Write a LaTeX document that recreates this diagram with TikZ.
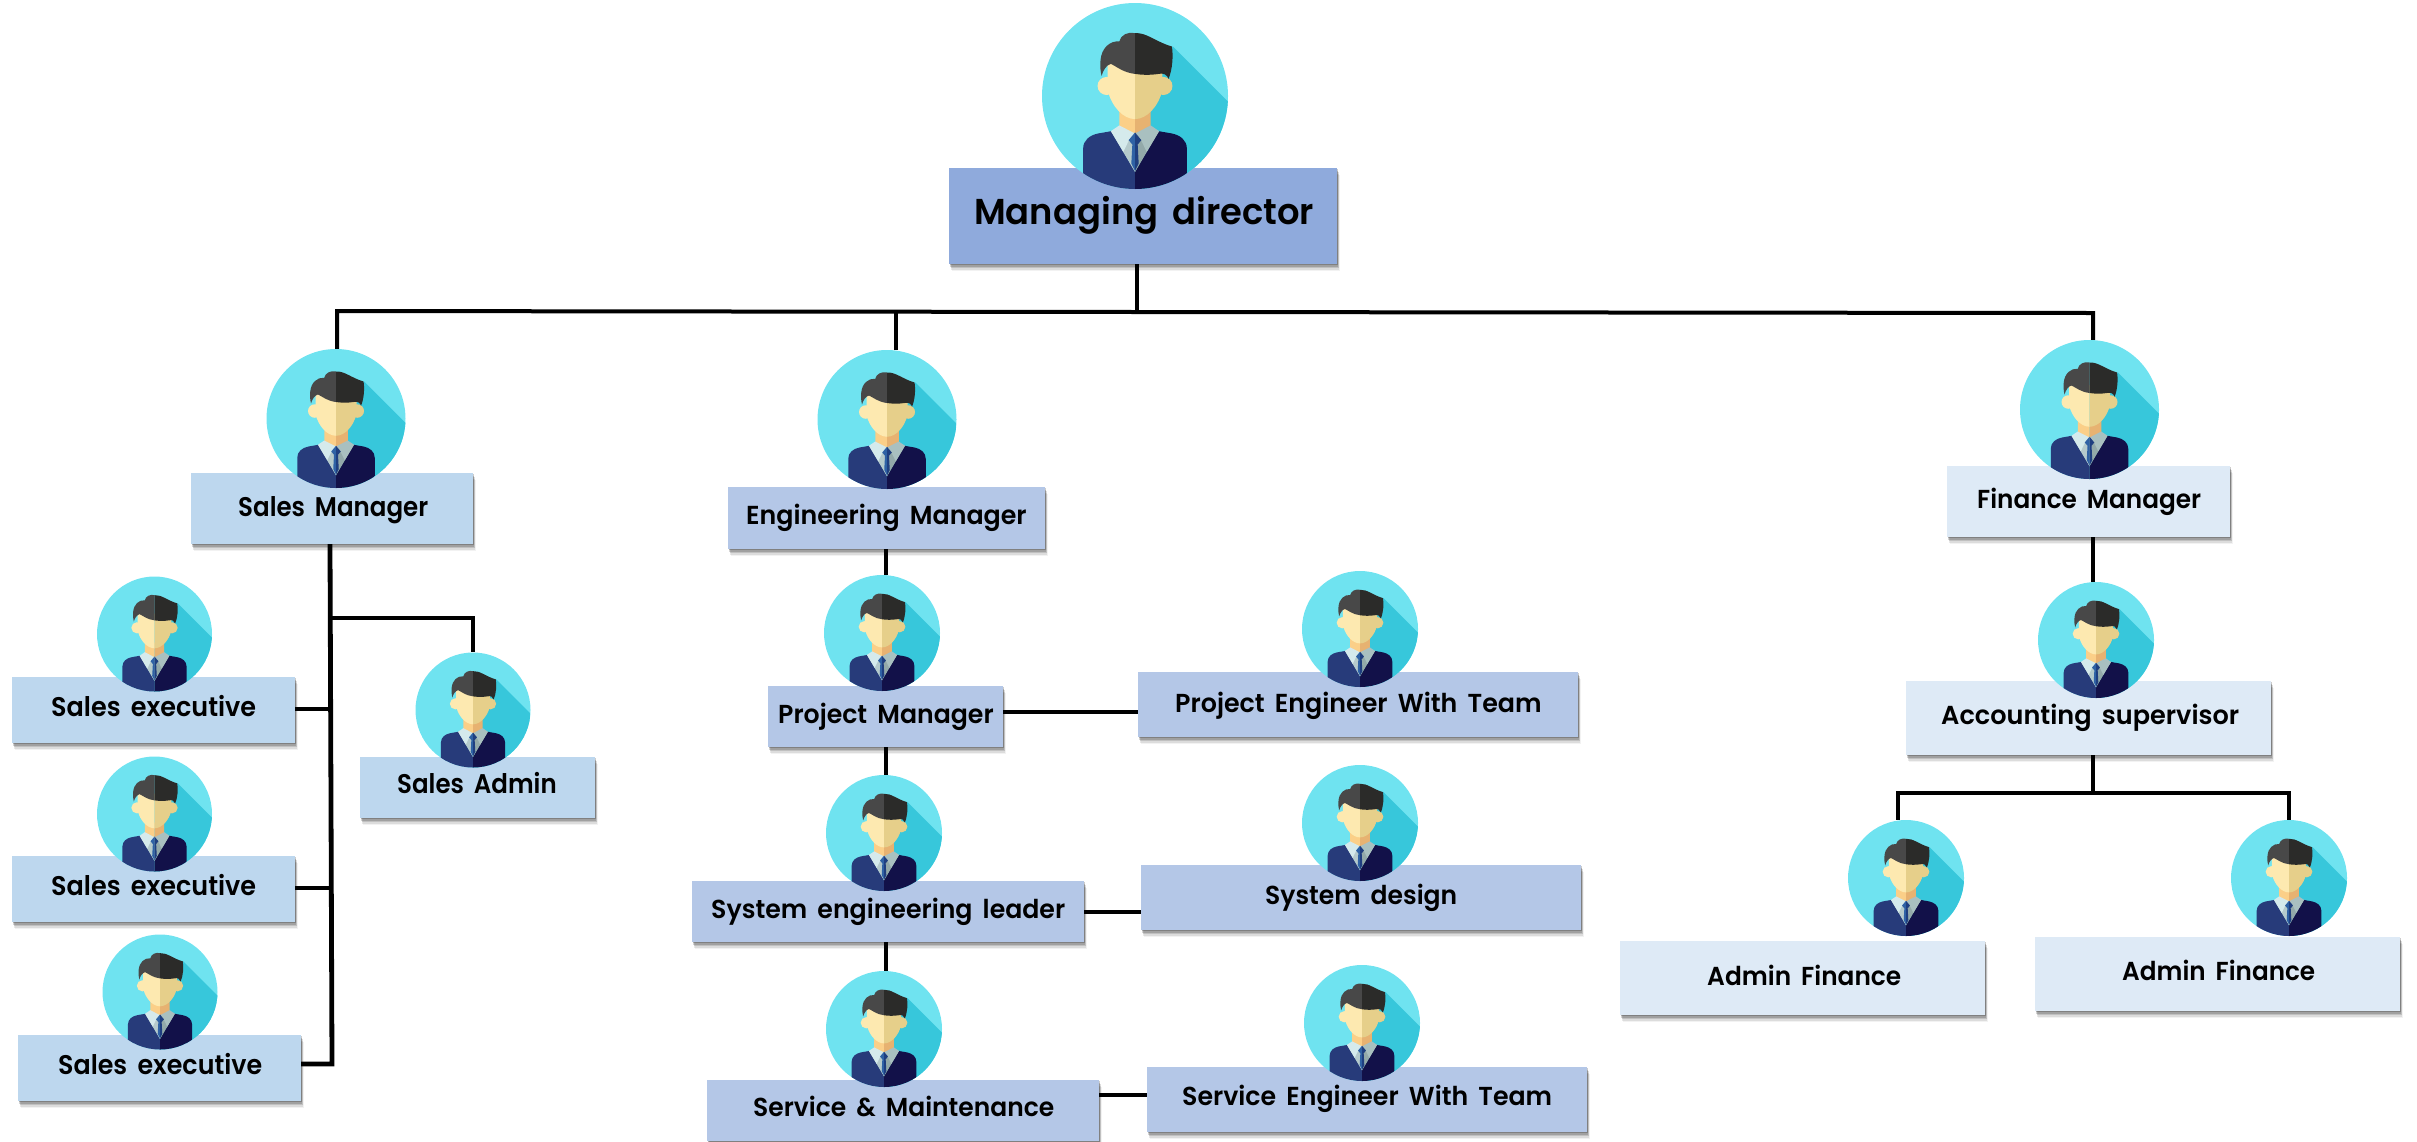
\documentclass[tikz,border=0pt]{standalone}
\usepackage{fontspec}
\usepackage{graphicx}
\setmainfont{Poppins}[BoldFont={Poppins SemiBold},WordSpace=1.7]
\usetikzlibrary{shadows}
\definecolor{cTop}{HTML}{8FAADC}
\definecolor{cSales}{HTML}{BDD7EE}
\definecolor{cEng}{HTML}{B4C7E7}
\definecolor{cFin}{HTML}{DEEAF6}
\definecolor{cDisc}{HTML}{6FE3F0}
\definecolor{cDiscD}{HTML}{37C7DB}
\definecolor{cSuitL}{HTML}{273B7A}
\definecolor{cSuitR}{HTML}{121149}
\definecolor{cNeckL}{HTML}{FBCF88}
\definecolor{cNeckR}{HTML}{E7B271}
\definecolor{cFaceL}{HTML}{FDE9B0}
\definecolor{cFaceR}{HTML}{E6CF8A}
\definecolor{cHairL}{HTML}{484848}
\definecolor{cHairR}{HTML}{2B2B29}
\definecolor{cColL}{HTML}{D5EAEC}
\definecolor{cColR}{HTML}{A9C0C0}
\definecolor{cShirtL}{HTML}{B5CACC}
\definecolor{cShirtR}{HTML}{93A9A9}
\definecolor{cTieL}{HTML}{2F62A5}
\definecolor{cTieR}{HTML}{1F3F80}
\tikzset{
  cardbox/.style={rectangle,inner sep=0pt,draw=none,
    general shadow={fill=black,opacity=.05,shadow xshift=2.5pt,shadow yshift=-7pt},
    general shadow={fill=black,opacity=.09,shadow xshift=2pt,shadow yshift=-5.5pt},
    general shadow={fill=black,opacity=.13,shadow xshift=1.5pt,shadow yshift=-4pt},
    general shadow={fill=black,opacity=.17,shadow xshift=1pt,shadow yshift=-2.5pt},
    general shadow={fill=black,opacity=.20,shadow xshift=.5pt,shadow yshift=-1.2pt}},
  boxtop/.style={cardbox,fill=cTop},
  boxsales/.style={cardbox,fill=cSales},
  boxeng/.style={cardbox,fill=cEng},
  boxfin/.style={cardbox,fill=cFin},
  disc/.style={circle,inner sep=0pt,draw=none,fill=cDisc},
  cardlabel/.style={anchor=base west,inner sep=0pt,text=black},
  wire/.style={draw=black,line width=4pt},
  wirethick/.style={draw=black,line width=4.8pt},
}
% name, x1, y1, x2, y2, style
\newcommand{\card}[6]{%
  \pgfmathsetmacro\cardw{#4-#2}%
  \pgfmathsetmacro\cardh{#5-#3}%
  \node[#6,minimum width=\cardw pt,minimum height=\cardh pt] (#1) at ({(#2+#4)/2},{(#3+#5)/2}) {};}
% name, x1, x2, baseline, size, text
\newcommand{\cardtext}[6]{%
  \pgfmathsetmacro\textw{#3-#2}%
  \node[cardlabel] (#1) at (#2,#4) {\resizebox{\textw pt}{\height}{\fontsize{#5}{#5}\selectfont\bfseries #6}};}
% name, cx, cy, r
\newcommand{\avatar}[4]{%
  \pgfmathsetmacro\avd{2*#4}%
  \pgfmathsetmacro\avs{#4/278}%
  \node[disc,minimum size=\avd pt] (#1) at (#2,#3) {};
  \begin{scope}[shift={(#2,#3)},x=\avs pt,y=-\avs pt,shift={(-285,-288)}]
    \clip (285,288) circle (278);
    \fill[cDiscD] (398,140) -- (563,305) -- (570,570) -- (285,570) -- (285,200) -- cycle;
    \fill[cNeckL] (238,330) -- (285,330) -- (285,405) -- (238,380) -- cycle;
    \fill[cNeckR] (332,330) -- (285,330) -- (285,405) -- (332,380) -- cycle;
    \fill[cSuitL] (130,575) -- (130,445) .. controls (130,420) and (150,405) .. (175,400) -- (215,393) -- (285,515) -- (285,575) -- cycle;
    \fill[cSuitR] (440,575) -- (440,445) .. controls (440,420) and (420,405) .. (395,400) -- (355,393) -- (285,515) -- (285,575) -- cycle;
    \fill[cShirtL] (213,393) -- (285,400) -- (285,515) -- cycle;
    \fill[cShirtR] (357,393) -- (285,400) -- (285,515) -- cycle;
    \fill[cColL] (238,376) -- (213,393) -- (250,455) -- (268,418) -- (285,400) -- cycle;
    \fill[cColR] (332,376) -- (357,393) -- (320,455) -- (302,418) -- (285,400) -- cycle;
    \fill[cTieL] (285,397) -- (266,420) -- (277,433) -- (274,490) -- (285,512) -- cycle;
    \fill[cTieR] (285,397) -- (304,420) -- (293,433) -- (296,490) -- (285,512) -- cycle;
    \fill[cFaceL] (200,258) circle (27);
    \fill[cFaceR] (370,258) circle (27);
    \fill[cFaceL] (203,190) -- (203,270) .. controls (215,320) and (250,357) .. (285,357) -- (285,190) -- cycle;
    \fill[cFaceR] (367,190) -- (367,270) .. controls (355,320) and (320,357) .. (285,357) -- (285,190) -- cycle;
    \fill[cHairL] (285,100) .. controls (265,95) and (242,105) .. (238,125) .. controls (210,122) and (185,145) .. (182,180) .. controls (180,200) and (182,215) .. (185,228) .. controls (190,210) and (200,195) .. (213,192) .. controls (230,200) and (250,218) .. (285,222) -- cycle;
    \fill[cHairR] (285,100) .. controls (320,98) and (345,125) .. (395,140) .. controls (400,165) and (397,210) .. (385,237) .. controls (382,225) and (370,218) .. (355,222) .. controls (330,226) and (305,225) .. (285,222) -- cycle;
  \end{scope}}
\begin{document}
\begin{tikzpicture}[x=1pt,y=-1pt]
\clip (0,0) rectangle (2417,1141);
% ---- cards
\card{md}{949}{168}{1337}{264}{boxtop}
\card{sm}{191}{473}{473}{544}{boxsales}
\card{se1}{12}{677}{295}{743}{boxsales}
\card{se2}{12}{856}{295}{922}{boxsales}
\card{se3}{18}{1035}{301}{1101}{boxsales}
\card{sa}{360}{757}{595}{818}{boxsales}
\card{em}{728}{487}{1045}{549}{boxeng}
\card{pm}{768}{686}{1003}{747}{boxeng}
\card{pe}{1138}{672}{1578}{737}{boxeng}
\card{sl}{692}{881}{1084}{942}{boxeng}
\card{sd}{1141}{865}{1581}{930}{boxeng}
\card{sv}{707}{1080}{1099}{1141}{boxeng}
\card{st}{1147}{1067}{1587}{1132}{boxeng}
\card{fm}{1947}{466}{2230}{537}{boxfin}
\card{as}{1906}{681}{2271}{755}{boxfin}
\card{af1}{1620}{941}{1985}{1015}{boxfin}
\card{af2}{2035}{937}{2400}{1011}{boxfin}
% ---- avatars
\avatar{amd}{1135}{96}{93}
\avatar{asm}{336}{418.5}{69.5}
\avatar{ase1}{154.5}{634}{57.5}
\avatar{ase2}{154.5}{814}{57.5}
\avatar{ase3}{160}{992}{57.5}
\avatar{asa}{473}{710}{57.5}
\avatar{aem}{887}{419.5}{69.5}
\avatar{apm}{882}{633}{58}
\avatar{ape}{1360}{629}{58}
\avatar{asl}{884}{833}{58}
\avatar{asd}{1360}{823}{58}
\avatar{asv}{884}{1029}{58}
\avatar{ast}{1362}{1023}{58}
\avatar{afm}{2089.5}{409.5}{69.5}
\avatar{aas}{2096}{640}{58}
\avatar{aaf1}{1906}{878}{58}
\avatar{aaf2}{2289}{878}{58}
% ---- labels
\cardtext{tmd}{974}{1314}{224}{36}{Managing director}
\cardtext{tsm}{238}{428}{516}{27}{Sales Manager}
\cardtext{tse1}{51}{256}{716}{27}{Sales executive}
\cardtext{tse2}{51}{256}{895}{27}{Sales executive}
\cardtext{tse3}{58}{262}{1074}{27}{Sales executive}
\cardtext{tsa}{397}{556.5}{793}{27}{Sales Admin}
\cardtext{tem}{746}{1026.5}{524}{26}{Engineering Manager}
\cardtext{tpm}{778}{993.5}{723}{26}{Project Manager}
\cardtext{tpe}{1175}{1541.5}{712}{26}{Project Engineer With Team}
\cardtext{tsl}{711}{1065}{918}{26}{System engineering leader}
\cardtext{tsd}{1265}{1457}{904}{26}{System design}
\cardtext{tsv}{753}{1054}{1116}{26}{Service \& Maintenance}
\cardtext{tst}{1182}{1552}{1105}{26}{Service Engineer With Team}
\cardtext{tfm}{1977}{2201}{508}{26}{Finance Manager}
\cardtext{tas}{1941}{2239}{724}{26}{Accounting supervisor}
\cardtext{taf1}{1707}{1901}{985}{26}{Admin Finance}
\cardtext{taf2}{2122}{2315}{980}{26}{Admin Finance}
% ---- connector way points
\coordinate (busL) at (337,311);
\coordinate (busM) at (1137,312);
\coordinate (busE) at (896,311.7);
\coordinate (busR) at (2093,313);
\coordinate (trunkT) at (330,544);
\coordinate (trunkB) at (332,1064);
\coordinate (adminJ) at (331,618);
\coordinate (adminC) at (473,618);
\coordinate (j1) at (331,709);
\coordinate (j2) at (331,888);
\coordinate (rowPM) at (1070,712);
\coordinate (rowSL) at (1110,912);
\coordinate (rowSV) at (1120,1095);
\coordinate (engX) at (885.5,549);
\coordinate (finBusL) at (1898,793);
\coordinate (finBusM) at (2093,793);
\coordinate (finBusR) at (2289,793);
% ---- connectors
\draw[wire,line join=miter] (asm.north -| busL) -- (busL) -- (busM) -- (busR) -- (afm.north -| busR);
\draw[wire] (md.south -| busM) -- (busM);
\draw[wire] (busE) -- (aem.north -| busE);
\draw[wirethick] (sm.south -| trunkT) -- (trunkB) -- (se3.east |- trunkB);
\draw[wire] (se1.east |- j1) -- (j1);
\draw[wire] (se2.east |- j2) -- (j2);
\draw[wire] (adminJ) -- (adminC) -- (asa.north);
\draw[wire] (em.south -| engX) -- (apm.north -| engX);
\draw[wire] (pm.south -| engX) -- (asl.north -| engX);
\draw[wire] (sl.south -| engX) -- (asv.north -| engX);
\draw[wire] (pm.east |- rowPM) -- (pe.west |- rowPM);
\draw[wire] (sl.east |- rowSL) -- (sd.west |- rowSL);
\draw[wire] (sv.east |- rowSV) -- (st.west |- rowSV);
\draw[wire] (fm.south -| busR) -- (aas.north -| busR);
\draw[wire] (as.south -| busR) -- (finBusM);
\draw[wire] (aaf1.north -| finBusL) -- (finBusL) -- (finBusR) -- (aaf2.north);
\end{tikzpicture}
\end{document}
